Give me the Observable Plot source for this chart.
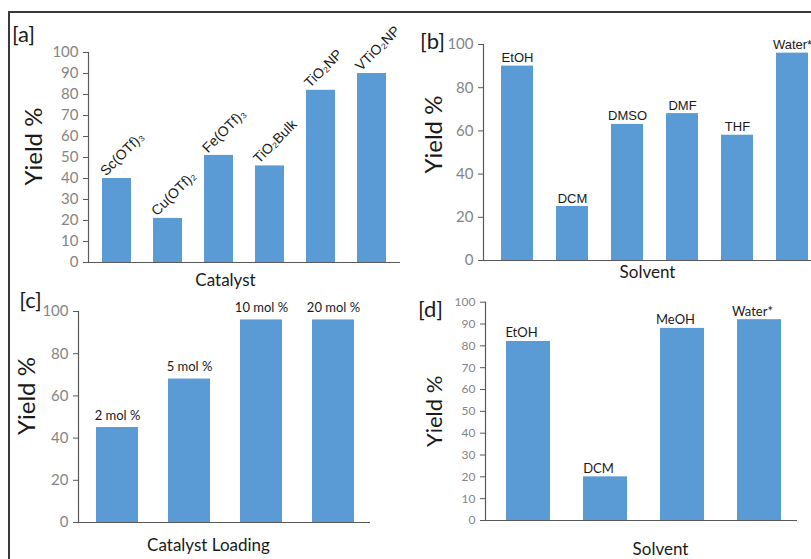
<!DOCTYPE html>
<html><head><meta charset="utf-8">
<script src="https://cdn.jsdelivr.net/npm/d3@7"></script>
<script src="https://cdn.jsdelivr.net/npm/@observablehq/plot@0.6"></script>
<style>
body{margin:0;background:#fff;}
#wrap{position:relative;width:811px;height:559px;overflow:hidden;background:#fff;}
#border{position:absolute;left:8px;top:11px;width:830px;height:570px;border-top:2px solid #3a3a3a;border-left:2px solid #3a3a3a;}
.panel{position:absolute;}
.panel svg{overflow:visible;}
</style></head><body><div id="wrap"><div id="border"></div></div>
<script>
// ---- data ----
const catalysts = ["Sc(OTf)₃", "Cu(OTf)₂", "Fe(OTf)₃", "TiO₂Bulk", "TiO₂NP", "VTiO₂NP"];
const catalystYield = [40, 21, 51, 46, 82, 90];
const solventsB = ["EtOH", "DCM", "DMSO", "DMF", "THF", "Water*"];
const solventYieldB = [90, 25, 63, 68, 58, 96];
const loadings = ["2 mol %", "5 mol %", "10 mol %", "20 mol %"];
const loadingYield = [45, 68, 96, 96];
const solventsD = ["EtOH", "DCM", "MeOH", "Water*"];
const solventYieldD = [82, 20, 88, 92];
const ticks10 = [0, 10, 20, 30, 40, 50, 60, 70, 80, 90, 100];
const ticks20 = [0, 20, 40, 60, 80, 100];
const panelTags = ["[a]", "[b]", "[c]", "[d]"];
const yTitle = "Yield %";
const xTitles = ["Catalyst", "Solvent", "Catalyst Loading", "Solvent"];

const BAR = "#5B9BD5", LINE = "#595959", TICKTXT = "#858585", TXT = "#1a1a1a";

function panel(c) {
  const data = c.cats.map((k, i) => ({cat: k, v: c.vals[i]}));
  const fh = c.height - c.mb;
  const svg = Plot.plot({
    width: c.width, height: c.height,
    marginLeft: c.ml, marginRight: c.mr, marginTop: c.mt, marginBottom: c.mb,
    style: {fontFamily: "Lato, sans-serif", overflow: "visible", background: "transparent"},
    x: {domain: c.cats, range: c.xr, paddingInner: c.p, paddingOuter: c.p / 2, axis: null},
    y: {domain: [0, 100], axis: null},
    marks: [
      Plot.barY(data, {x: "cat", y: "v", fill: BAR}),
      Plot.ruleY([0], {stroke: LINE, strokeWidth: 1.2}),
      Plot.frame({anchor: "left", stroke: LINE, strokeWidth: 1.2}),
      Plot.axisY({ticks: c.ticks, tickSize: 5, tickPadding: c.tp, fontSize: c.tickFont, stroke: LINE, fill: TICKTXT, label: null}),
      Plot.text(data, {x: "cat", y: "v", text: "cat", dx: c.ldx, dy: c.ldy, rotate: c.lrot, textAnchor: c.lanchor,
        lineAnchor: "bottom", fontSize: c.lfont, fontFamily: c.lfamily, fill: TXT}),
      Plot.text([c.tag], {frameAnchor: "top-left", dx: c.tag_dx, dy: c.tag_dy, textAnchor: "middle", lineAnchor: "middle",
        fontSize: 22, fill: TXT}),
      Plot.text([yTitle], {frameAnchor: "left", dx: c.yt_dx, dy: c.yt_dy, rotate: -90, textAnchor: "middle",
        lineAnchor: "middle", fontSize: c.ytFont, fill: TXT}),
      Plot.text([c.xtitle], {frameAnchor: "bottom", dx: c.xt_dx, dy: c.xt_dy, textAnchor: "middle",
        lineAnchor: "middle", fontSize: 17, fill: TXT})
    ]
  });
  const div = document.createElement("div");
  div.className = "panel";
  div.style.left = c.left + "px";
  div.style.top = c.top + "px";
  div.appendChild(svg);
  document.getElementById("wrap").appendChild(div);
}

panel({left: 0, top: 0, width: 405, height: 290, ml: 88, mr: 5, mt: 52, mb: 28,
  cats: catalysts, vals: catalystYield, xr: [88.65, 398.85], p: 0.43, ticks: ticks10, tp: 5, tickFont: 15,
  ldx: -11, ldy: -2, lrot: -45, lanchor: "start", lfont: 14, lfamily: "'Liberation Sans', Arial, sans-serif",
  tag: panelTags[0], tag_dx: -65, tag_dy: -18, yt_dx: -54, yt_dy: -11, ytFont: 24,
  xtitle: xTitles[0], xt_dx: -19, xt_dy: 18});

panel({left: 405, top: 0, width: 406, height: 290, ml: 78, mr: 0, mt: 44, mb: 30,
  cats: solventsB, vals: solventYieldB, xr: [83.35, 415.35], p: 0.42, ticks: ticks20, tp: 5, tickFont: 15,
  ldx: 0, ldy: -4, lrot: 0, lanchor: "middle", lfont: 13, lfamily: "'Liberation Sans', Arial, sans-serif",
  tag: panelTags[1], tag_dx: -51, tag_dy: -3, yt_dx: -49, yt_dy: -18, ytFont: 24,
  xtitle: xTitles[1], xt_dx: 0, xt_dy: 12});

panel({left: 0, top: 285, width: 405, height: 274, ml: 78, mr: 35, mt: 26, mb: 37,
  cats: loadings, vals: loadingYield, xr: [79.8, 369.2], p: 0.42, ticks: ticks20, tp: 5, tickFont: 15,
  ldx: 0, ldy: -8, lrot: 0, lanchor: "middle", lfont: 13, lfamily: "Lato, sans-serif",
  tag: panelTags[2], tag_dx: -48, tag_dy: -11, yt_dx: -51, yt_dy: -21, ytFont: 24,
  xtitle: xTitles[2], xt_dx: -16, xt_dy: 23});

panel({left: 405, top: 285, width: 406, height: 274, ml: 80, mr: 14, mt: 16.7, mb: 39,
  cats: solventsD, vals: solventYieldD, xr: [84.5, 392.5], p: 0.43, ticks: ticks10, tp: 5, tickFont: 12,
  ldx: -7, ldy: -4, lrot: 0, lanchor: "middle", lfont: 13, lfamily: "Lato, sans-serif",
  tag: panelTags[3], tag_dx: -55, tag_dy: 8, yt_dx: -51, yt_dy: 0, ytFont: 22,
  xtitle: xTitles[3], xt_dx: 19, xt_dy: 29});
</script></body></html>
